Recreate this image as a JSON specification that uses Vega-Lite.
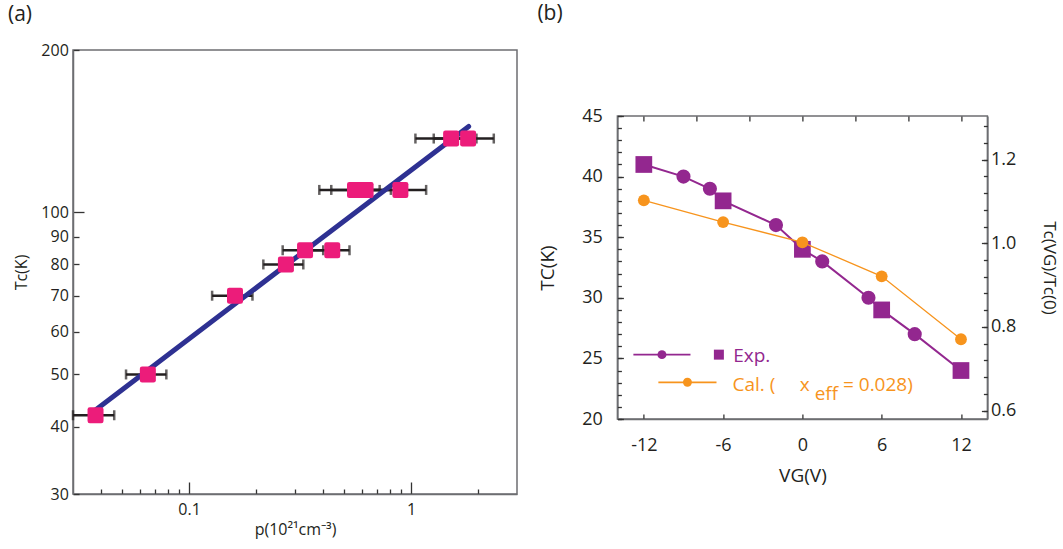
{
  "$schema": "https://vega.github.io/schema/vega-lite/v6.json",
  "padding": {"left": 7, "top": 3, "right": 5, "bottom": 2},
  "background": "white",
  "spacing": 19.4,
  "config": {
    "font": "Open Sans",
    "view": {"stroke": "#6D6E71", "strokeWidth": 1.5},
    "axis": {"grid": false, "domainColor": "#6D6E71", "domainWidth": 1.5, "tickColor": "#333333", "tickWidth": 1.3, "labelColor": "#231F20", "titleColor": "#231F20", "titleFontWeight": "normal", "labelOverlap": false, "labelFlush": false},
    "title": {"color": "#231F20", "fontWeight": "normal"}
  },
  "datasets": {
    "tcp": [
      {"p": 0.0379, "tc": 42, "lo": 0.0300, "hi": 0.046},
      {"p": 0.0652, "tc": 50, "lo": 0.052, "hi": 0.079},
      {"p": 0.161, "tc": 70, "lo": 0.127, "hi": 0.193},
      {"p": 0.273, "tc": 80, "lo": 0.216, "hi": 0.327},
      {"p": 0.333, "tc": 85, "lo": 0.264, "hi": 0.402},
      {"p": 0.4415, "tc": 85, "lo": 0.349, "hi": 0.528},
      {"p": 0.559, "tc": 110, "lo": 0.386, "hi": 0.722},
      {"p": 0.624, "tc": 110, "lo": 0.437, "hi": 0.811},
      {"p": 0.895, "tc": 110, "lo": 0.627, "hi": 1.169},
      {"p": 1.515, "tc": 137, "lo": 1.046, "hi": 1.97},
      {"p": 1.807, "tc": 137, "lo": 1.265, "hi": 2.358}
    ],
    "fit": [
      {"p": 0.0379, "tc": 42.97},
      {"p": 1.817, "tc": 144.3}
    ],
    "exp": [
      {"v": -12, "tc": 41, "kind": "square"},
      {"v": -9, "tc": 40, "kind": "circle"},
      {"v": -7, "tc": 39, "kind": "circle"},
      {"v": -6, "tc": 38, "kind": "square"},
      {"v": -2, "tc": 36, "kind": "circle"},
      {"v": 0, "tc": 34, "kind": "square"},
      {"v": 1.5, "tc": 33, "kind": "circle"},
      {"v": 5, "tc": 30, "kind": "circle"},
      {"v": 6, "tc": 29, "kind": "square"},
      {"v": 8.5, "tc": 27, "kind": "circle"},
      {"v": 12, "tc": 24, "kind": "square"}
    ],
    "cal": [
      {"v": -12, "ratio": 1.1026},
      {"v": -6, "ratio": 1.0507},
      {"v": 0, "ratio": 1.0023},
      {"v": 6, "ratio": 0.9209},
      {"v": 12, "ratio": 0.7704}
    ],
    "legLines": [
      {"series": "Exp.", "x1": -12.79, "x2": -8.47, "y": 25.31},
      {"series": "Cal.", "x1": -10.9, "x2": -6.5, "y": 23.03}
    ],
    "legText": [
      {"series": "Exp.", "x": -5.24, "y": 24.7, "label": "Exp."},
      {"series": "Cal.", "x": -5.29, "y": 22.34, "label": "Cal. ("},
      {"series": "Cal.", "x": -0.2, "y": 22.34, "label": "x"},
      {"series": "Cal.", "x": 0.93, "y": 21.6, "label": "eff"},
      {"series": "Cal.", "x": 3.07, "y": 22.34, "label": "= 0.028)"}
    ]
  },
  "hconcat": [
    {
      "width": 444,
      "height": 444,
      "title": {"text": "(a)", "anchor": "start", "frame": "group", "dx": -65, "offset": 17, "fontSize": 21},
      "layer": [
        {
          "data": {"name": "tcp"},
          "mark": {"type": "rule", "color": "#231F20", "strokeWidth": 2.5},
          "encoding": {
            "x": {"field": "lo", "type": "quantitative",
              "scale": {"type": "log", "domain": [0.03, 3], "nice": false},
              "axis": {
                "values": [0.04, 0.05, 0.06, 0.07, 0.08, 0.09, 0.1, 0.2, 0.3, 0.4, 0.5, 0.6, 0.7, 0.8, 0.9, 1, 2],
                "labelExpr": "datum.value == 0.1 ? '0.1' : (datum.value == 1 ? '1' : '')",
                "tickSize": {"condition": {"test": "datum.value == 0.1 || datum.value == 1", "value": -12}, "value": -5},
                "labelPadding": {"condition": {"test": "datum.value == 0.1 || datum.value == 1", "value": 19}, "value": 12},
                "labelFontSize": 16, "labelOverlap": false,
                "title": "p(10²¹cm⁻³)", "titleFontSize": 16, "titlePadding": 4
              }
            },
            "x2": {"field": "hi"},
            "y": {"field": "tc", "type": "quantitative",
              "scale": {"type": "log", "domain": [30, 200], "nice": false},
              "axis": {
                "values": [30, 40, 50, 60, 70, 80, 90, 100, 200],
                "tickSize": {"condition": {"test": "datum.value == 100", "value": -11}, "value": -6},
                "labelPadding": {"condition": {"test": "datum.value == 100", "value": 15.7}, "value": 10.7},
                "labelFontSize": 16, "labelOverlap": false,
                "title": "Tc(K)", "titleFontSize": 16, "titlePadding": 11
              }
            }
          }
        },
        {
          "data": {"name": "tcp"},
          "transform": [{"fold": ["lo", "hi"], "as": ["end", "xv"]}],
          "mark": {"type": "tick", "orient": "vertical", "size": 10, "thickness": 2.5, "color": "#231F20"},
          "encoding": {
            "x": {"field": "xv", "type": "quantitative"},
            "y": {"field": "tc", "type": "quantitative"}
          }
        },
        {
          "data": {"name": "fit"},
          "mark": {"type": "line", "color": "#2E3192", "strokeWidth": 5, "strokeCap": "round"},
          "encoding": {
            "x": {"field": "p", "type": "quantitative"},
            "y": {"field": "tc", "type": "quantitative"}
          }
        },
        {
          "data": {"name": "tcp"},
          "mark": {"type": "point", "filled": true, "opacity": 1, "color": "#EC1C7A", "size": 256,
            "shape": "M-0.72,-1H0.72Q1,-1,1,-0.72V0.72Q1,1,0.72,1H-0.72Q-1,1,-1,0.72V-0.72Q-1,-1,-0.72,-1Z"},
          "encoding": {
            "x": {"field": "p", "type": "quantitative"},
            "y": {"field": "tc", "type": "quantitative"}
          }
        }
      ]
    },
    {
      "title": {"text": "(b)", "anchor": "start", "frame": "group", "dx": -80, "offset": 26, "fontSize": 21},
      "spacing": 0,
      "vconcat": [
        {
          "width": 370,
          "height": 56,
          "view": {"stroke": null},
          "data": {"values": []},
          "mark": {"type": "point", "opacity": 0},
          "encoding": {}
        },
        {
          "width": 370,
          "height": 303,
          "layer": [
            {
              "layer": [
                {
                  "data": {"name": "exp"},
                  "mark": {"type": "line", "color": "#93278F", "strokeWidth": 2},
                  "encoding": {
                    "x": {"field": "v", "type": "quantitative",
                      "scale": {"domain": [-14, 14], "nice": false},
                      "axis": {
                        "values": [-12, -6, 0, 6, 12],
                        "labelExpr": "datum.value < 0 ? '-' + abs(datum.value) : '' + datum.value",
                        "tickSize": -5, "labelPadding": 22, "labelFontSize": 18, "labelOverlap": false,
                        "title": "VG(V)", "titleFontSize": 19, "titlePadding": 12
                      }
                    },
                    "y": {"field": "tc", "type": "quantitative",
                      "scale": {"domain": [20, 45], "nice": false, "zero": false},
                      "axis": {
                        "orient": "left",
                        "values": [20, 25, 30, 35, 40, 45],
                        "tickSize": -6, "labelPadding": 21, "labelFontSize": 18, "labelOverlap": false,
                        "title": "TC(K)", "titleFontSize": 19, "titlePadding": 24
                      }
                    }
                  }
                },
                {
                  "data": {"name": "exp"},
                  "transform": [{"filter": "datum.kind == 'circle'"}],
                  "mark": {"type": "circle", "color": "#93278F", "opacity": 1, "size": 200},
                  "encoding": {
                    "x": {"field": "v", "type": "quantitative"},
                    "y": {"field": "tc", "type": "quantitative"}
                  }
                },
                {
                  "data": {"name": "exp"},
                  "transform": [{"filter": "datum.kind == 'square'"}],
                  "mark": {"type": "square", "color": "#93278F", "opacity": 1, "size": 280},
                  "encoding": {
                    "x": {"field": "v", "type": "quantitative"},
                    "y": {"field": "tc", "type": "quantitative"}
                  }
                },
                {
                  "data": {"name": "legLines"},
                  "mark": {"type": "rule", "strokeWidth": 1.8},
                  "encoding": {
                    "x": {"field": "x1", "type": "quantitative"},
                    "x2": {"field": "x2"},
                    "y": {"field": "y", "type": "quantitative"},
                    "color": {"field": "series", "type": "nominal", "scale": {"domain": ["Exp.", "Cal."], "range": ["#93278F", "#F7941D"]}, "legend": null}
                  }
                },
                {
                  "data": {"name": "legLines"},
                  "transform": [{"calculate": "(datum.x1 + datum.x2) / 2", "as": "xm"}],
                  "mark": {"type": "circle", "opacity": 1, "size": 80},
                  "encoding": {
                    "x": {"field": "xm", "type": "quantitative"},
                    "y": {"field": "y", "type": "quantitative"},
                    "color": {"field": "series", "type": "nominal", "legend": null}
                  }
                },
                {
                  "data": {"values": [{"x": -6.32, "y": 25.31}]},
                  "mark": {"type": "square", "color": "#93278F", "opacity": 1, "size": 100},
                  "encoding": {
                    "x": {"field": "x", "type": "quantitative"},
                    "y": {"field": "y", "type": "quantitative"}
                  }
                },
                {
                  "data": {"name": "legText"},
                  "mark": {"type": "text", "align": "left", "baseline": "alphabetic", "fontSize": 19},
                  "encoding": {
                    "x": {"field": "x", "type": "quantitative"},
                    "y": {"field": "y", "type": "quantitative"},
                    "text": {"field": "label"},
                    "color": {"field": "series", "type": "nominal", "legend": null}
                  }
                }
              ]
            },
            {
              "layer": [
                {
                  "data": {"name": "cal"},
                  "mark": {"type": "line", "color": "#F7941D", "strokeWidth": 1.3},
                  "encoding": {
                    "x": {"field": "v", "type": "quantitative",
                      "axis": {"values": [-12, -10, -8, -6, -4, -2, 0, 2, 4, 6, 8, 10, 12], "labels": false, "domain": false, "title": null, "tickSize": -5}
                    },
                    "y": {"field": "ratio", "type": "quantitative",
                      "scale": {"domain": [0.57971, 1.30435], "nice": false, "zero": false},
                      "axis": {
                        "orient": "right",
                        "values": [0.6, 0.8, 1.0, 1.2],
                        "labelExpr": "format(datum.value, '.1f')",
                        "tickSize": -6, "labelPadding": 9, "labelFontSize": 18, "labelOverlap": false,
                        "title": "Tc(VG)/Tc(0)", "titleFontSize": 17, "titlePadding": 24
                      }
                    }
                  }
                },
                {
                  "data": {"name": "cal"},
                  "mark": {"type": "circle", "color": "#F7941D", "opacity": 1, "size": 140},
                  "encoding": {
                    "x": {"field": "v", "type": "quantitative"},
                    "y": {"field": "ratio", "type": "quantitative"}
                  }
                }
              ]
            },
            {
              "data": {"values": [{"s": 0, "t": 30}]},
              "mark": {"type": "point", "opacity": 0},
              "encoding": {
                "x": {"field": "s", "type": "quantitative", "axis": null},
                "y": {"field": "t", "type": "quantitative",
                  "scale": {"domain": [20, 45], "nice": false, "zero": false},
                  "axis": {"orient": "left", "values": [20, 21, 22, 23, 24, 25, 26, 27, 28, 29, 30, 31, 32, 33, 34, 35, 36, 37, 38, 39, 40, 41, 42, 43, 44, 45], "labels": false, "domain": false, "title": null, "tickSize": -4}
                }
              }
            },
            {
              "data": {"values": [{"s": 0, "t": 1.0}]},
              "mark": {"type": "point", "opacity": 0},
              "encoding": {
                "x": {"field": "s", "type": "quantitative", "axis": null},
                "y": {"field": "t", "type": "quantitative",
                  "scale": {"domain": [0.57971, 1.30435], "nice": false, "zero": false},
                  "axis": {"orient": "right", "values": [0.6, 0.64, 0.68, 0.72, 0.76, 0.8, 0.84, 0.88, 0.92, 0.96, 1.0, 1.04, 1.08, 1.12, 1.16, 1.2, 1.24, 1.28], "labels": false, "domain": false, "title": null, "tickSize": -4}
                }
              }
            }
          ],
          "resolve": {"scale": {"y": "independent"}, "axis": {"x": "independent", "y": "independent"}}
        }
      ]
    }
  ]
}
